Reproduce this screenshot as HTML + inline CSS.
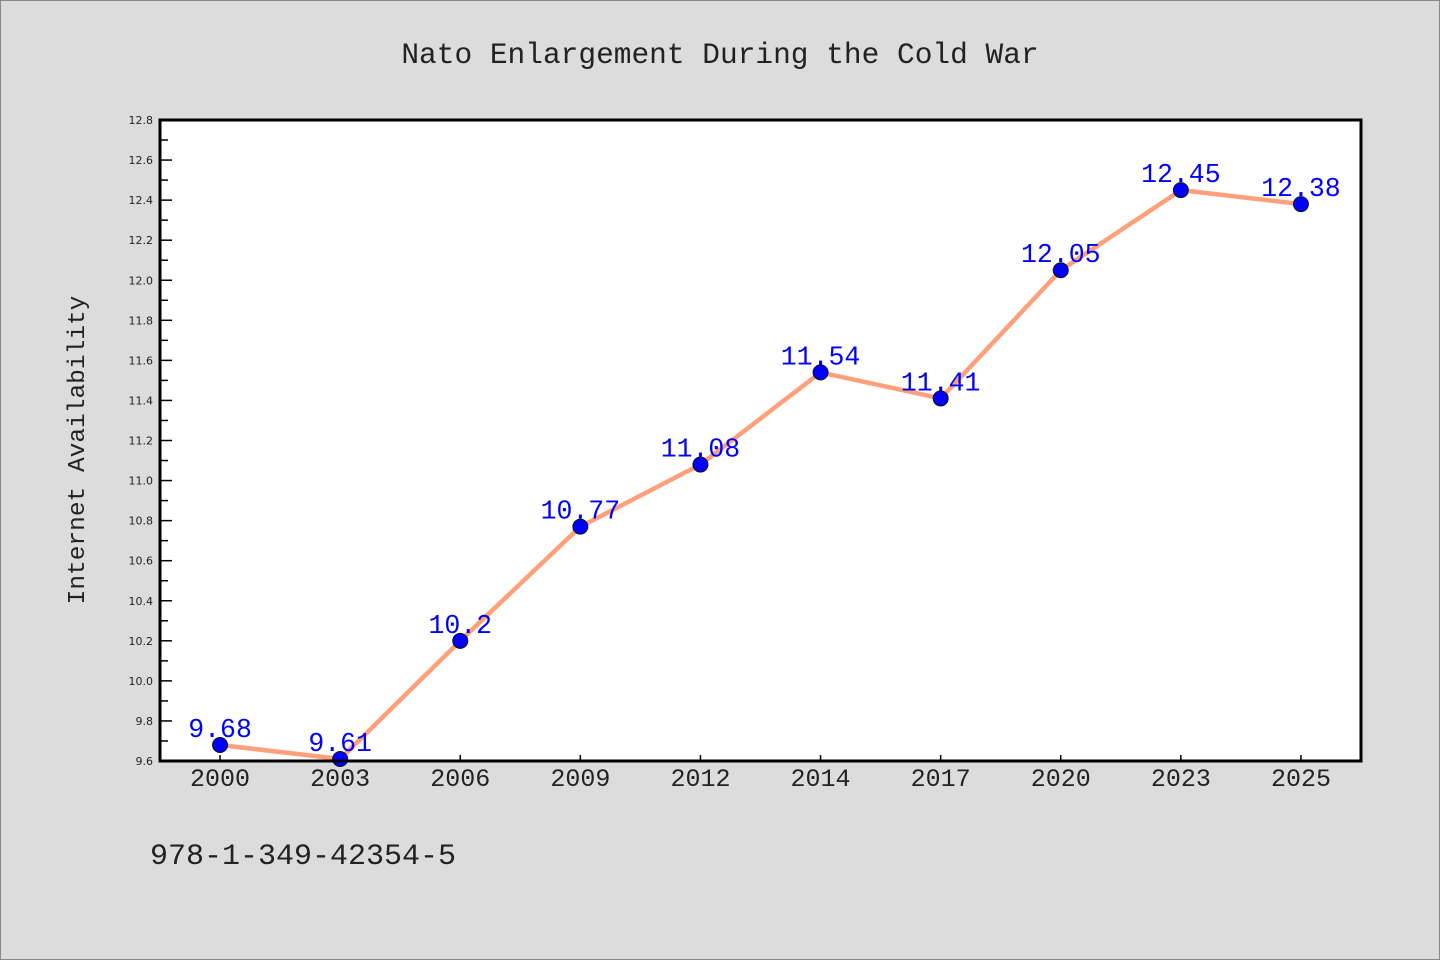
<!DOCTYPE html>
<html><head><meta charset="utf-8"><style>
html,body{margin:0;padding:0;background:#dcdcdc;}
svg{display:block;}
text{font-family:"Liberation Mono","DejaVu Sans Mono",monospace;}
</style></head><body>
<svg id="chart" width="1440" height="960" xmlns="http://www.w3.org/2000/svg">
<rect x="0.5" y="0.5" width="1439" height="959" fill="#dcdcdc" stroke="#888"/>
<text x="720" y="63" text-anchor="middle" font-size="29.5" fill="#222">Nato Enlargement During the Cold War</text>
<rect x="160" y="120" width="1201" height="641" fill="#fff"/>
<g id="yaxis"></g>
<g id="xaxis"></g>
<g id="series"></g>
<rect x="160" y="120" width="1201" height="641" fill="none" stroke="#000" stroke-width="3"/>
<text transform="translate(84,450) rotate(-90)" text-anchor="middle" font-size="24.5" fill="#222">Internet Availability</text>
<text x="150" y="864" font-size="30" fill="#222">978-1-349-42354-5</text>
</svg>
<script>
const categories=["2000","2003","2006","2009","2012","2014","2017","2020","2023","2025"];
const values=[9.68,9.61,10.2,10.77,11.08,11.54,11.41,12.05,12.45,12.38];
const yTicks=[9.6,9.8,10.0,10.2,10.4,10.6,10.8,11.0,11.2,11.4,11.6,11.8,12.0,12.2,12.4,12.6,12.8];
const yMin=9.6,yMax=12.8;
const L=160,R=1361,T=120,B=761;
const NS="http://www.w3.org/2000/svg";
function y(v){return B-(v-yMin)/(yMax-yMin)*(B-T);}
function x(i){const step=(R-L)/categories.length;return L+step*(i+0.5);}
function mk(tag,attrs,parent){const e=document.createElementNS(NS,tag);for(const k in attrs)e.setAttribute(k,attrs[k]);parent.appendChild(e);return e;}
const ya=document.getElementById('yaxis'),xa=document.getElementById('xaxis'),se=document.getElementById('series');
yTicks.forEach((t,i)=>{
  const yy=y(t);
  const l=mk('line',{x1:L,x2:L+12,y1:yy,y2:yy,stroke:'#000','stroke-width':1.5},ya);
  
  
  const tx=mk('text',{x:L-7,y:yy+4,'text-anchor':'end','font-size':11,fill:'#222',style:'font-family:"DejaVu Sans",sans-serif'},ya);
  tx.textContent=t.toFixed(1);
  
  
  if(i<yTicks.length-1){
    const ym=y(t+0.1);
    const m=mk('line',{x1:L,x2:L+8,y1:ym,y2:ym,stroke:'#000','stroke-width':1.5},ya);
    
    
  }
});
categories.forEach((c,i)=>{
  const xx=x(i);
  const l=mk('line',{x1:xx,x2:xx,y1:B,y2:B-6,stroke:'#000','stroke-width':1.5},xa);
  
  
  const tx=mk('text',{x:xx,y:B+25,'text-anchor':'middle','font-size':25,fill:'#222'},xa);
  tx.textContent=c;
  
  
});
const pts=values.map((v,i)=>x(i)+','+y(v)).join(' ');
const pl=mk('polyline',{points:pts,fill:'none',stroke:'#ffa07a','stroke-width':4.5,'stroke-linejoin':'round'},se);


values.forEach((v,i)=>{
  const c=mk('circle',{cx:x(i),cy:y(v),r:7.5,fill:'#0000ff',stroke:'#111','stroke-width':1},se);
  
  
});
values.forEach((v,i)=>{
  const t=mk('text',{x:x(i),y:y(v)-8,'text-anchor':'middle','font-size':26.5,fill:'#0000ff'},se);
  t.textContent=String(v);
  
  
});
</script>
</body></html>
